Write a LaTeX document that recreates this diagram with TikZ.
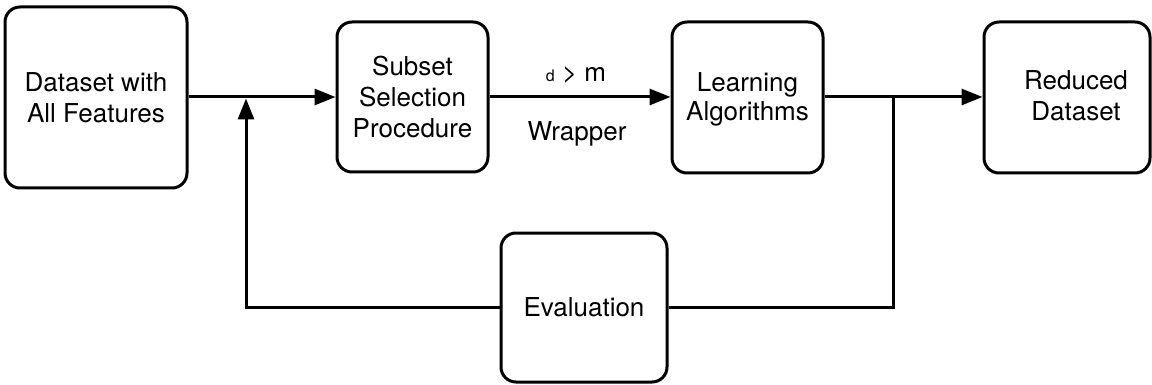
\documentclass[tikz,border=0pt]{standalone}
\usepackage{fontspec}
\setmainfont{TeX Gyre Heros}
\usetikzlibrary{arrows.meta}
\begin{document}
\begin{tikzpicture}[x=1pt,y=-1pt,
  box/.style={draw, line width=3pt, rounded corners=15pt, inner sep=0pt, align=center,
              font=\fontsize{26}{31}\selectfont},
  conn/.style={line width=3pt},
  arr/.style={conn, -{Triangle[length=21pt,width=16pt]}},
  lbl/.style={font=\fontsize{26}{31}\selectfont, inner sep=0pt, anchor=base}]
\useasboundingbox (0,0) rectangle (1152,385);
% boxes
\node[box, minimum width=182pt, minimum height=181pt] (b1) at (96,97.5) {Dataset with\\All Features};
\node[box, minimum width=151pt, minimum height=150pt] (b2) at (412.5,97) {Subset\\Selection\\Procedure};
\node[box, minimum width=151pt, minimum height=151pt] (b3) at (747.5,97.5) {};
\node[lbl, anchor=center, align=center, font=\fontsize{26}{29}\selectfont, text depth=0pt] (b3t) at (747.5,97) {Learning\\Algorithms};
\node[box, minimum width=166pt, minimum height=151pt] (b4) at (1067,97.5) {};
\node[lbl, anchor=center, align=center] (b4t) at (1076,96) {Reduced\\Dataset};
\node[box, minimum width=166pt, minimum height=149pt] (ev) at (584,307.5) {Evaluation};
% labels
\node[lbl] (dm) at (576,82) {{\fontsize{16}{18}\selectfont d} > m};
\node[lbl] (wr) at (577,141) {Wrapper};
% junctions
\coordinate (jl) at (246,98.5);
\coordinate (jr) at (893,97);
% connectors
\draw[arr] (b1.east |- 0,97) -- (b2.west |- 0,97);
\draw[arr] (b2.east |- 0,97) -- (b3.west |- 0,97);
\draw[arr] (b3.east |- 0,97) -- (b4.west |- 0,97);
\draw[conn] (jr) |- (ev.east);
\draw[arr] (ev.west) -| (jl);
\end{tikzpicture}
\end{document}
